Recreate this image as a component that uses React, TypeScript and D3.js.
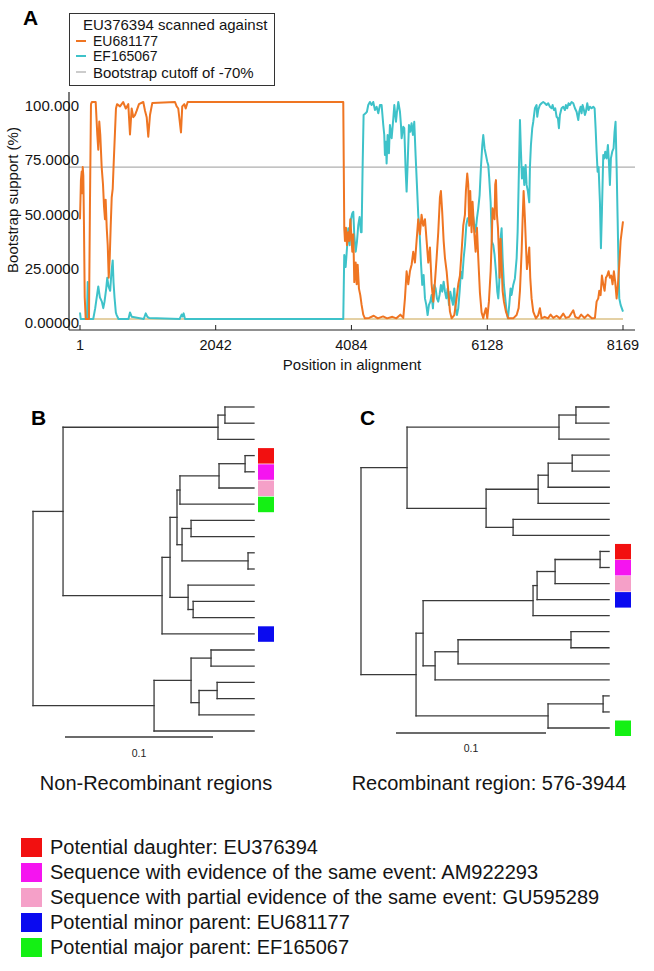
import React from 'react';
import * as d3 from 'd3';

// ---------- Panel A data ----------
const positionTicks = [1, 2042, 4084, 6128, 8169];
const supportTicks = [100, 75, 50, 25, 0];
const supportTickLabels = ['100.000', '75.0000', '50.0000', '25.0000', '0.00000'];
const cutoffValue = 70;

// EU681177 (orange) : [position, bootstrap support %]
const eu681177: [number, number][] = [
  [1,46],[15,64],[27,68],[35,58],[42,70],[51,66],[60,45],[72,10],[87,0],[136,0],[150,50],[166,99],[180,100],[237,100],
  [261,85],[276,78],[291,91],[306,85],[327,70],[347,62],[362,52],[377,46],[387,55],[403,42],[418,34],[433,19],[448,28],
  [463,43],[478,56],[493,60],[508,72],[527,86],[542,97],[558,99],[603,98],[650,100],[690,97],[727,99],[753,85],[778,97],
  [803,93],[828,94],[854,96],[888,99],[953,100],[979,96],[1004,93],[1028,84],[1054,94],[1088,99.5],[1430,100],[1455,98],
  [1479,97],[1520,86],[1539,98],[1570,99],[1591,97],[1621,100],[3961,100],
  [3976,42],[3987,36],[4002,42],[4017,34],[4037,40],[4052,36],[4067,46],[4082,39],[4097,31],[4112,39],[4127,17],[4148,26],
  [4163,16],[4178,25],[4197,14],[4217,11],[4237,6.5],[4262,2],[4287,0.3],[4350,0.5],[4420,1.5],[4480,0.3],[4560,1.2],
  [4620,0.3],[4700,1],[4760,0.3],[4820,2],[4864,0.5],[4889,9.5],[4914,22],[4939,16],[4964,22],[4989,25],[5014,31],
  [5039,26],[5064,36],[5089,46],[5114,39],[5139,48],[5164,43],[5190,46],[5215,36],[5240,26],[5265,33],[5290,16],[5315,8],
  [5340,17],[5365,28],[5390,40],[5415,56],[5430,59],[5450,49],[5471,36],[5491,28],[5516,22],[5541,13],[5566,3.4],[5591,0.3],
  [5631,1.8],[5666,9.5],[5691,16],[5716,20],[5741,31],[5766,43],[5791,48],[5806,59],[5826,67],[5841,62],[5856,43],[5871,59],
  [5891,40],[5906,54],[5931,40],[5952,31],[5972,42],[5992,28],[6017,12],[6042,3],[6067,0.3],[6077,1.8],[6107,5],[6127,0.3],
  [6152,8],[6178,22],[6197,39],[6207,51],[6222,48],[6237,46],[6247,62],[6258,64],[6273,48],[6288,42],[6303,30],[6313,19],
  [6328,37],[6343,25],[6358,13],[6378,8],[6408,3.4],[6443,0.3],[6518,0.3],[6569,1.8],[6599,5],[6619,13],[6644,31],[6659,46],
  [6674,59],[6694,46],[6709,34],[6724,23],[6744,28],[6759,33],[6774,19],[6794,9.5],[6819,3.4],[6859,0.3],[6894,1.8],[6919,5],
  [6944,0.3],[6990,1],[7040,0.3],[7080,2],[7120,0.5],[7170,1.5],[7220,0.3],[7270,2.5],[7310,0.5],[7360,1],[7421,4],[7450,1],
  [7500,0.3],[7540,2],[7590,0.5],[7640,2],[7700,0.3],[7747,0.5],[7772,8],[7797,9.5],[7812,13],[7832,11],[7852,20],[7872,16],
  [7892,13],[7912,19],[7932,20],[7952,22],[7972,19],[7992,20],[8012,16],[8032,22],[8052,17],[8073,9.5],[8093,16],[8113,25],
  [8133,36],[8169,45],
];

// EF165067 (teal) : [position, bootstrap support %]
const ef165067: [number, number][] = [
  [1,3],[12,0],[105,0],[117,17],[128,0],[200,0],[230,5],[262,12],[276,15],[300,10],[330,8],[351,5],[370,8],[395,14],[411,19],
  [430,15],[455,13],[475,22],[493,27],[505,17],[520,10],[540,3],[553,1.8],[580,0],[730,0],[753,3],[780,1],[960,0],[990,2.6],
  [1015,1],[1040,0.5],[1500,0],[1530,2],[1545,1.2],[1560,2.6],[1580,0],[3961,0],
  [3976,29.5],[3997,24],[4017,32.6],[4037,41.8],[4057,34],[4077,46],[4097,48.7],[4112,49.4],[4127,38.7],[4148,31],[4167,35.6],
  [4187,43.3],[4207,47],[4227,40],[4237,40],[4252,69.9],[4267,94],[4297,94.8],[4317,95.5],[4337,98.6],[4362,100],[4387,98.6],
  [4412,100],[4438,96.3],[4463,97.8],[4488,94.8],[4513,98.6],[4538,98.6],[4563,89.4],[4578,84.8],[4588,75.6],[4603,81.7],
  [4613,71.7],[4628,84.8],[4648,76.4],[4663,89.4],[4689,83.3],[4714,92.5],[4729,98.6],[4739,95.5],[4754,90.9],[4769,95.5],
  [4789,100],[4814,95.5],[4829,89.4],[4839,83.3],[4864,88.6],[4879,88],[4899,68.7],[4914,58.7],[4929,71],[4949,89.4],
  [4969,86.3],[4989,90.2],[5009,84.8],[5029,90.9],[5049,75.6],[5069,61.8],[5089,47.9],[5109,40.2],[5129,26.4],[5149,15.7],
  [5170,20.3],[5190,9.5],[5210,6.5],[5230,1.8],[5250,6.5],[5270,8],[5290,11.1],[5310,4.9],[5330,15.7],[5350,14.1],[5370,9.5],
  [5390,8],[5410,11.1],[5430,15.7],[5450,12.6],[5471,17.2],[5491,12.6],[5511,9.5],[5531,14.1],[5551,6.5],[5571,12.6],
  [5591,9.5],[5611,6.5],[5631,14.1],[5651,4.9],[5671,1.8],[5691,4.9],[5711,12.6],[5731,21.8],[5751,18.7],[5772,28],
  [5792,34.1],[5812,43.3],[5832,46.4],[5852,46.4],[5872,52.5],[5892,51],[5912,47.9],[5932,43.3],[5952,40.2],[5972,46.4],
  [5992,51],[6012,57.1],[6032,69.9],[6052,80],[6067,84.8],[6087,78.6],[6107,75.6],[6127,72.5],[6142,71],[6157,64.8],
  [6178,53.8],[6197,35.6],[6217,34.1],[6237,29.5],[6258,21.8],[6278,12.6],[6293,9.5],[6308,17.2],[6328,37.2],[6343,41.8],
  [6358,28],[6378,15.7],[6398,9.5],[6418,3.4],[6438,0.3],[6458,6.5],[6478,14.1],[6493,11.1],[6518,15.7],[6543,18.7],
  [6569,28],[6584,40.2],[6599,61.8],[6619,91.7],[6634,77.1],[6649,64.8],[6669,69.9],[6684,61.8],[6704,71],[6719,61.8],
  [6739,58.7],[6759,53.8],[6769,69.9],[6784,80.2],[6804,88],[6819,90.9],[6844,97.1],[6869,98.6],[6879,93.2],[6894,96.3],
  [6919,98.6],[6944,99.4],[6969,100],[6994,99.4],[7019,98.6],[7044,99.4],[7070,97.8],[7095,97.1],[7110,98.6],[7130,96.3],
  [7150,97.1],[7170,93.2],[7190,92.5],[7205,87.9],[7220,94],[7245,97.1],[7270,97.8],[7295,96.3],[7310,98.6],[7330,97.1],
  [7350,99.4],[7370,98.6],[7396,100],[7421,99.4],[7446,97.1],[7471,95.5],[7496,91.7],[7511,95.5],[7531,97.8],[7546,94.8],
  [7561,98.6],[7581,96.3],[7596,94],[7611,95.5],[7631,99.4],[7651,96.3],[7671,97.8],[7697,97.1],[7722,97.8],[7742,97.1],
  [7757,87.9],[7772,77.1],[7787,67.9],[7802,69.9],[7822,53.8],[7837,32.6],[7852,49.4],[7872,75.6],[7887,74],[7902,77.1],
  [7922,74],[7942,80.2],[7957,72.5],[7972,61.8],[7987,74],[8007,77.1],[8027,78.6],[8042,86.3],[8057,90.9],[8073,69.9],
  [8088,46.4],[8103,21.8],[8113,9.5],[8133,6.5],[8169,3.4],
];

const legendATitle = 'EU376394 scanned against';
const legendASeries = ['EU681177', 'EF165067', 'Bootstrap cutoff of -70%'];

// ---------- Panels B & C data (Newick clades, branch lengths in substitutions/site) ----------
const bTop = '((b0:0.0196,b1:0.0196):0.0047,b2:0.0243)';
const bDaughter = '(((red:0.0061,magenta:0.0061):0.0176,pink:0.0236):0.0264,green:0.05)';
const bSisters = '((b7:0.0426,b8:0.0426):0.0061,(b9:0.0041,b10:0.0041):0.0446)';
const bThird = '(b11:0.0446,(b12:0.0412,b13:0.0412):0.0034)';
const bMid = '(((' + bDaughter + ':0.002,' + bSisters + ':0.0034):0.0047,' + bThird + ':0.0122):0.0054,blue:0.0622)';
const bLower = '(((b15:0.0291,b16:0.0291):0.0135,((b17:0.025,b18:0.025):0.0122,b19:0.0372):0.0054):0.025,b20:0.0676)';
const treeB = '((' + bTop + ':0.1047,' + bMid + ':0.0669):0.0203,' + bLower + ':0.0818);';

const cTop = '(((c0:0.022,c1:0.022):0.0113,c2:0.0333):0.1013,((((c3:0.0247,c4:0.0247):0.016,c5:0.0407):0.0067,c6:0.0473):0.0347,(c7:0.064,c8:0.064):0.018):0.0527)';
const cDaughter = '((((red:0.006,magenta:0.006):0.03,pink:0.036):0.012,blue:0.048):0.0027,c13:0.0507)';
const cMid = '(((c14:0.0253,c15:0.0253):0.0753,c16:0.1007):0.0153,c17:0.116)';
const cLower = '((c18:0.004,c19:0.004):0.0367,green:0.0407)';
const treeC = '(' + cTop + ':0.0307,((' + cDaughter + ':0.0733,' + cMid + ':0.008):0.0047,' + cLower + ':0.088):0.0367);';

const scaleBarValue = 0.1;
const treeTitles = ['Non-Recombinant regions', 'Recombinant region: 576-3944'];

const markKeys = ['red', 'magenta', 'pink', 'blue', 'green'];
const markColors = ['#f21010', '#f514f0', '#f5a0c8', '#0a0af0', '#14f014'];
const markLabels = [
  'Potential daughter: EU376394',
  'Sequence with evidence of the same event: AM922293',
  'Sequence with partial evidence of the same event: GU595289',
  'Potential minor parent: EU681177',
  'Potential major parent: EF165067',
];

// ---------- helpers ----------
type TNode = { name: string; length: number; children?: TNode[] };
function parseNewick(s: string): TNode {
  let i = 0;
  function node(): TNode {
    const n: TNode = { name: '', length: 0 };
    if (s[i] === '(') {
      i++;
      n.children = [];
      for (;;) {
        n.children.push(node());
        if (s[i] === ',') { i++; continue; }
        if (s[i] === ')') { i++; break; }
        break;
      }
    }
    let name = '';
    while (i < s.length && !',:();'.includes(s[i])) name += s[i++];
    n.name = name;
    if (s[i] === ':') {
      i++;
      let num = '';
      while (i < s.length && !',();'.includes(s[i])) num += s[i++];
      n.length = parseFloat(num);
    }
    return n;
  }
  return node();
}

const FONT = '"Liberation Sans", Arial, Helvetica, sans-serif';
const INK = '#141414';
const TREE_INK = '#3a3a3a';

function Tree(props: {
  newick: string; rootX: number; unitPx: number; yTop: number; yBottom: number; markX: number;
  barX: number; barY: number; labelY: number; label: string; letter: string; letterX: number;
  title: string; titleX: number;
}) {
  const root = d3.hierarchy(parseNewick(props.newick), (d: TNode) => d.children);
  const leaves = root.leaves();
  const x = d3.scaleLinear().domain([0, scaleBarValue]).range([props.rootX, props.rootX + props.unitPx * scaleBarValue]);
  const yLeaf = d3.scaleLinear().domain([0, leaves.length - 1]).range([props.yTop, props.yBottom]);
  const dist = new Map<any, number>();
  root.eachBefore((n: any) => dist.set(n, n.parent ? dist.get(n.parent)! + n.data.length : 0));
  const ypos = new Map<any, number>();
  leaves.forEach((l: any, i: number) => ypos.set(l, yLeaf(i)));
  root.eachAfter((n: any) => {
    if (n.children) ypos.set(n, (ypos.get(n.children[0])! + ypos.get(n.children[n.children.length - 1])!) / 2);
  });
  const segs: { x1: number; y1: number; x2: number; y2: number }[] = [];
  root.each((n: any) => {
    const nx = x(dist.get(n)!);
    const ny = ypos.get(n)!;
    if (n.parent) segs.push({ x1: x(dist.get(n.parent)!), y1: ny, x2: nx, y2: ny });
    if (n.children) {
      segs.push({ x1: nx, y1: ypos.get(n.children[0])!, x2: nx, y2: ypos.get(n.children[n.children.length - 1])! });
    }
  });
  const barLen = x(scaleBarValue) - x(0);
  return (
    <g>
      <text x={props.letterX} y={425} fontFamily={FONT} fontWeight="bold" fontSize={21} fill="#000">{props.letter}</text>
      {segs.map((s, i) => (
        <line key={i} x1={s.x1} y1={s.y1} x2={s.x2} y2={s.y2} stroke={TREE_INK} strokeWidth={1.3} strokeLinecap="square" />
      ))}
      {leaves.map((l: any, i: number) => {
        const k = markKeys.indexOf(l.data.name);
        if (k < 0) return null;
        return <rect key={i} x={props.markX} y={ypos.get(l)! - 7.5} width={16} height={15.5} fill={markColors[k]} />;
      })}
      <line x1={props.barX} x2={props.barX + barLen} y1={props.barY} y2={props.barY} stroke={TREE_INK} strokeWidth={1.3} />
      <text x={props.barX + barLen / 2} y={props.labelY} textAnchor="middle" fontFamily={FONT} fontSize={10.5} fill="#222">{props.label}</text>
      <text x={props.titleX} y={790} textAnchor="middle" fontFamily={FONT} fontSize={20} fill={INK}>{props.title}</text>
    </g>
  );
}

export default function App() {
  const W = 654, H = 971;
  const x = d3.scaleLinear().domain([1, 8169]).range([80, 623]);
  const y = d3.scaleLinear().domain([0, 100]).range([319, 102]);
  const line = d3.line<[number, number]>().x(d => x(d[0])).y(d => y(d[1]));
  const orange = '#ef7522';
  const teal = '#3ec2c9';

  return (
    <svg width={W} height={H} style={{ position: 'absolute', left: 0, top: 0, background: '#fff' }}>
      <rect width={W} height={H} fill="#fff" />
      {/* Panel A */}
      <text x={23} y={25} fontFamily={FONT} fontWeight="bold" fontSize={21} fill="#000">A</text>
      {/* legend box */}
      <rect x={69.5} y={13.5} width={205} height={72} fill="#fff" stroke="#333" strokeWidth={1} />
      <text x={83} y={29.5} fontFamily={FONT} fontSize={15} fill={INK}>{legendATitle}</text>
      <line x1={76} x2={86} y1={41} y2={41} stroke={orange} strokeWidth={2} />
      <text x={93} y={45.5} fontFamily={FONT} fontSize={14} fill={INK}>{legendASeries[0]}</text>
      <line x1={76} x2={86} y1={56} y2={56} stroke={teal} strokeWidth={2} />
      <text x={93} y={60.5} fontFamily={FONT} fontSize={14} fill={INK}>{legendASeries[1]}</text>
      <line x1={76} x2={86} y1={72} y2={72} stroke="#999" strokeWidth={1} />
      <text x={93} y={77.5} fontFamily={FONT} fontSize={15} fill={INK}>{legendASeries[2]}</text>

      {/* cutoff line */}
      <line x1={69} x2={635} y1={y(cutoffValue)} y2={y(cutoffValue)} stroke="#9a9a9a" strokeWidth={1} />
      {/* zero baseline */}
      <line x1={x(1)} x2={x(8169)} y1={y(0)} y2={y(0)} stroke="#c9a24a" strokeWidth={1} />
      <path d={line(ef165067) || ''} fill="none" stroke={teal} strokeWidth={2} strokeLinejoin="round" />
      <path d={line(eu681177) || ''} fill="none" stroke={orange} strokeWidth={2} strokeLinejoin="round" />

      {/* axes */}
      <line x1={69} x2={69} y1={92} y2={330} stroke="#222" strokeWidth={1.2} />
      <line x1={69} x2={635} y1={330} y2={330} stroke="#222" strokeWidth={1.2} />
      {positionTicks.map(t => (
        <g key={t}>
          <line x1={x(t)} x2={x(t)} y1={330} y2={325} stroke="#222" strokeWidth={1} />
          <text x={x(t)} y={350} textAnchor="middle" fontFamily={FONT} fontSize={14.5} fill={INK}>{String(t)}</text>
        </g>
      ))}
      {supportTicks.map((t, i) => (
        <text key={t} x={79} y={y(t) + 9} textAnchor="end" fontFamily={FONT} fontSize={15} fill={INK}>{supportTickLabels[i]}</text>
      ))}
      <text x={352} y={370} textAnchor="middle" fontFamily={FONT} fontSize={15} fill={INK}>Position in alignment</text>
      <text transform={`translate(18,200) rotate(-90)`} textAnchor="middle" fontFamily={FONT} fontSize={15} fill={INK}>Bootstrap support (%)</text>

      {/* Panel B */}
      <Tree newick={treeB} rootX={33} unitPx={1480} yTop={407} yBottom={731} markX={258}
        barX={65} barY={737} labelY={757} label="0.1" letter="B" letterX={31}
        title={treeTitles[0]} titleX={156} />
      {/* Panel C */}
      <Tree newick={treeC} rootX={361} unitPx={1500} yTop={407} yBottom={728} markX={615}
        barX={396} barY={733} labelY={752} label="0.1" letter="C" letterX={360}
        title={treeTitles[1]} titleX={489} />

      {/* Bottom legend */}
      {markLabels.map((lab, i) => (
        <g key={lab}>
          <rect x={21} y={838 + i * 25} width={21} height={19} fill={markColors[i]} />
          <text x={50} y={854 + i * 25} fontFamily={FONT} fontSize={20} fill={INK}>{lab}</text>
        </g>
      ))}
    </svg>
  );
}
